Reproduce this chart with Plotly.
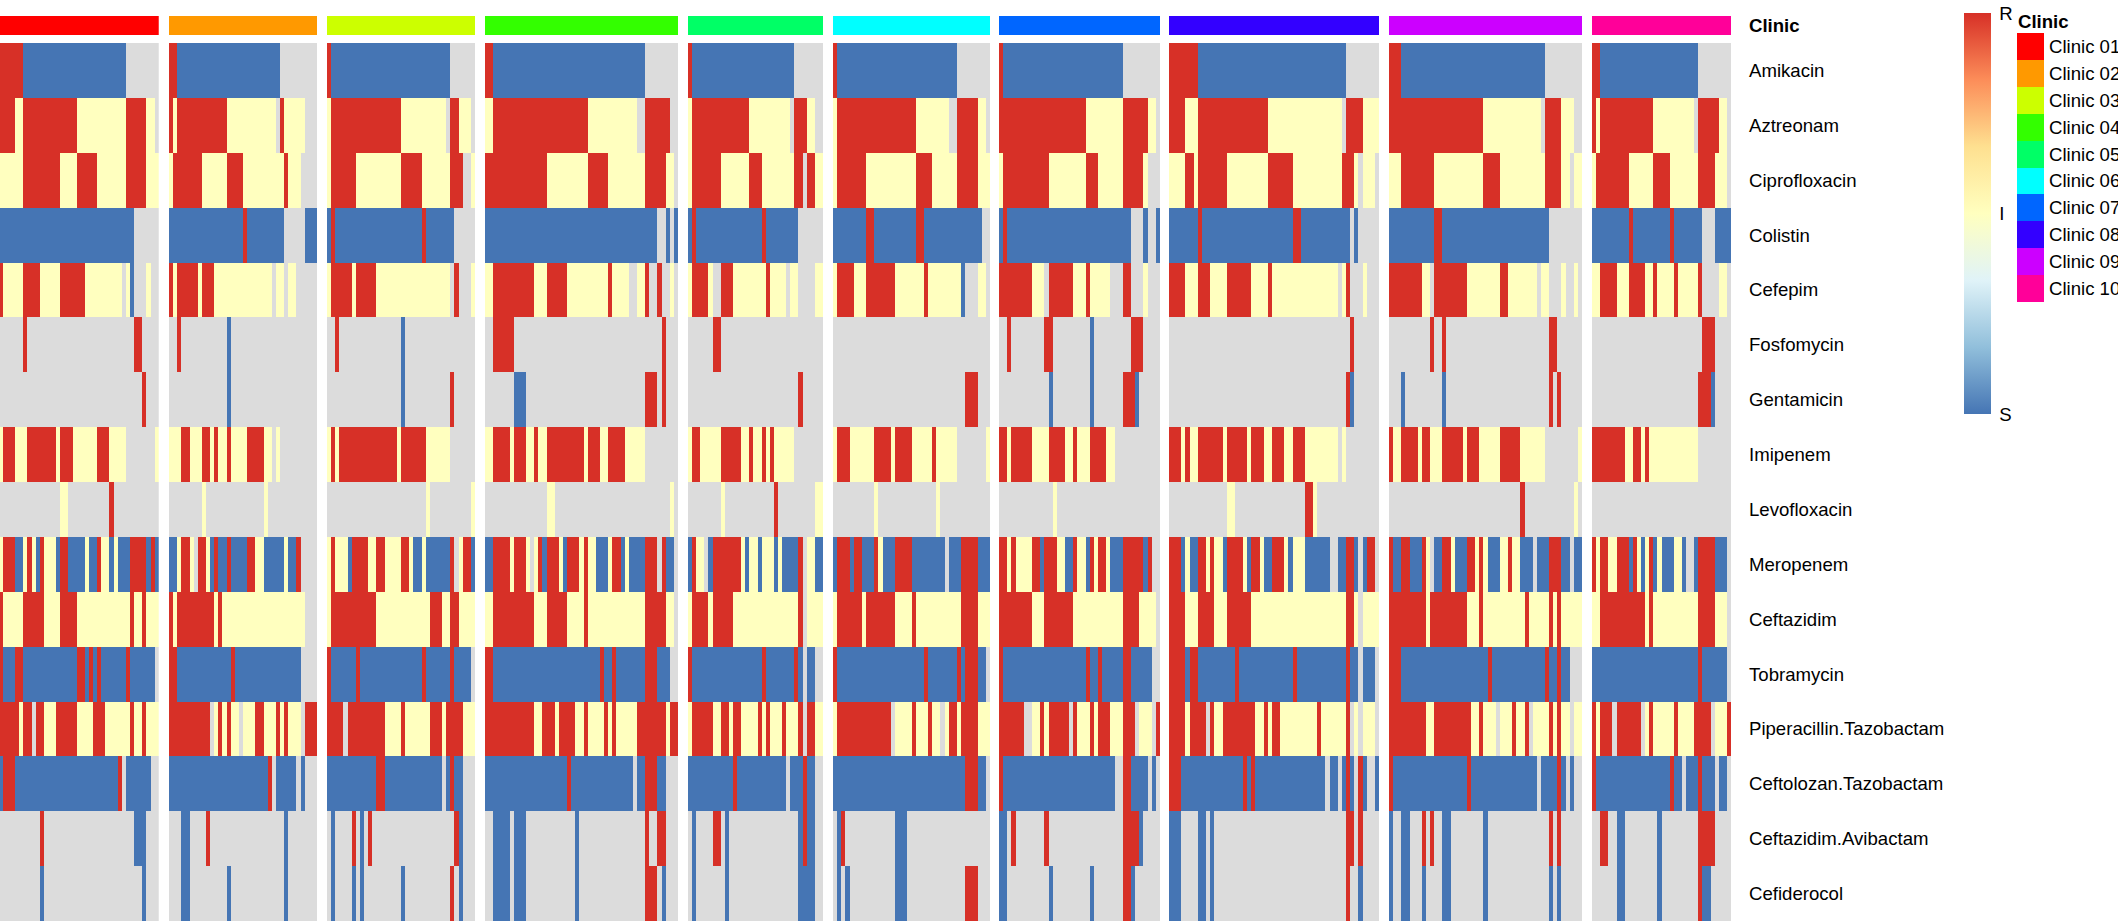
import plotly.graph_objects as go

drugs = ["Amikacin", "Aztreonam", "Ciprofloxacin", "Colistin", "Cefepim", "Fosfomycin",
         "Gentamicin", "Imipenem", "Levofloxacin", "Meropenem", "Ceftazidim", "Tobramycin",
         "Piperacillin.Tazobactam", "Ceftolozan.Tazobactam", "Ceftazidim.Avibactam", "Cefiderocol"]
clinics = ["Clinic 01", "Clinic 02", "Clinic 03", "Clinic 04", "Clinic 05",
           "Clinic 06", "Clinic 07", "Clinic 08", "Clinic 09", "Clinic 10"]
clinic_colors = ["#FF0000", "#FF9900", "#CCFF00", "#33FF00", "#00FF66",
                 "#00FFFF", "#0066FF", "#3300FF", "#CC00FF", "#FF0099"]
levels = {"S": 0, "I": 1, "R": 2, "N": None}

# Run-length coded results per isolate: one string per drug (S, I, R, N = not tested)
clinic_01 = ["6R 25S 8N", "4R 2I 13R 12I 5R 2I 1N", "6I 9R 4I 5R 7I 5R 3I", "33S 6N",
             "1R 5I 4R 5I 6R 9I 1N 1I 1S 3N 1I 2N", "6N 1R 26N 2R 4N", "35N 1R 3N",
             "1I 3R 3I 7R 1I 3R 6I 3R 4I 7N 1I", "15N 2I 10N 1R 11N",
             "1I 3R 2S 1I 1R 1I 1S 1R 3I 1S 2R 4S 1I 2S 1R 2I 1S 1I 3S 4R 1S 1R 1S",
             "1R 5I 5R 4I 4R 13I 1R 2I 1R 3I", "1R 3S 2R 13S 2R 1S 1R 1S 1R 6S 1R 6S 1N",
             "5R 1I 2R 1N 2R 3I 5R 4I 3R 6I 1R 2I 1R 3I", "1S 3R 25S 1R 1N 6S 2N",
             "10N 1R 22N 3S 3N", "10N 1S 24N 1S 3N"]
clinic_02 = ["2R 25S 9N", "1R 1I 12R 12I 1N 1R 5I 3N", "1I 7R 6I 4R 10I 1R 3I 4N", "18S 1R 9S 5N 3S",
             "1R 1I 5R 1I 3R 14I 1N 2I 1N 2I 5N", "2N 1R 11N 1S 21N", "14N 1S 21N",
             "3I 2R 3I 2R 1I 1R 2I 1R 4I 4R 2I 1N 1I 9N", "8N 1I 14N 1I 12N",
             "2S 1I 2R 1I 1N 2R 1I 1S 1R 2S 1R 4S 2R 2I 5S 1I 2S 1R 4N",
             "1R 1I 9R 1I 1R 20I 3N", "2R 13S 1R 16S 4N",
             "10R 1N 1I 1R 1I 1R 2I 1N 3I 2R 3I 1R 1I 1R 3I 1N 3R", "24S 1R 1N 5S 1N 1S 3N",
             "3N 2S 4N 1R 18N 1S 7N", "3N 2S 9N 1S 13N 1S 7N"]
clinic_03 = ["1R 29S 6N", "1I 17R 11I 1N 2R 3I 1N", "1I 6R 11I 5R 7I 3R 2N 1I", "1S 1R 21S 1R 7S 5N",
             "1I 5R 1I 5R 18I 1N 1R 3N 1I", "2N 1R 15N 1S 17N", "18N 1S 11N 1R 5N",
             "1I 1R 1I 14R 1I 6R 6I 6N", "24N 1I 10N 1I",
             "1I 1R 3I 1S 4R 2I 2R 4I 2R 1I 2S 1I 6S 1R 1N 1I 2R 1S",
             "1I 11R 13I 3R 2I 2R 4I", "1R 6S 1R 15S 1R 6S 1R 4S 1N",
             "4R 1N 9R 4I 1R 6I 3R 1I 4R 3I", "12S 2R 14S 1N 1S 1R 2S 3N",
             "1N 1S 4N 1R 1N 1S 1N 1R 20N 1R 1S 3N", "1N 1S 4N 1S 1N 1S 9N 1S 11N 1R 1N 1S 3N"]
clinic_04 = ["2R 37S 8N", "2I 23R 12I 2N 6R 2N", "15R 10I 5R 9I 5R 2I 1N", "42S 2N 1S 1N 1S",
             "2I 10R 3I 5R 10I 1R 4I 2N 2I 1R 2N 1R 2N 1I 1N", "2N 5R 36N 1R 3N", "7N 3S 29N 3R 1N 1R 3N",
             "2I 4R 1I 3R 2I 1R 2I 9R 1I 3R 2I 4R 5I 8N", "15N 2I 28N 1I 1N",
             "2S 4R 1I 3R 1I 1N 1I 1R 1S 3R 1I 1S 3R 1I 1R 2I 3S 1I 2R 1S 1I 4S 3R 1N 1R 2S 1N",
             "2I 10R 3I 5R 4I 1R 14I 5R 2I 1N", "2R 26S 1R 2S 1R 7S 3R 3S 2N",
             "12R 2I 3R 1I 4R 2I 1R 4I 1R 1I 1R 5I 7R 1I 2R", "20S 1R 15S 1N 2S 3R 2S 3N",
             "2N 4S 1N 3S 12N 1S 16N 1R 2N 2R 3N", "2N 4S 1N 3S 12N 1S 16N 3R 1N 1S 3N"]
clinic_05 = ["1R 25S 7N", "1I 14R 10I 1N 3R 2I 2N", "1I 7R 7I 3R 8I 2R 1N 2R 2I", "1S 1R 16S 1R 8S 6N",
             "1I 4R 1I 2N 3R 8I 1R 4I 1N 2I 4N 2I", "6N 2R 25N", "27N 1R 5N",
             "1I 2R 5I 5R 2I 1R 2I 1R 1I 1R 5I 7N", "8N 1I 12N 1R 9N 2I",
             "1S 1R 2I 1N 1S 7R 1I 1S 2I 1S 3I 1S 1I 4S 1R 1N 2I 2S",
             "1I 4R 1I 5R 16I 1R 1N 4I", "1R 17S 1R 7S 1R 1S 1N 2S 2N",
             "1I 5R 2I 2R 1I 2R 4I 1R 1I 1R 3I 1R 3I 1R 1N 2R 2I", "11S 1R 12S 1N 3S 1R 2S 2N",
             "1N 1S 4N 2R 1N 1S 17N 1S 1R 2S 2N", "1N 1S 7N 1S 17N 4S 2N"]
clinic_06 = ["1R 29S 8N", "1I 19R 8I 2N 5R 2I 1N", "1I 7R 12I 4R 6I 5R 3I", "8S 2R 10S 2R 14S 2N",
             "1I 4R 3I 7R 7I 1R 8I 1S 3N 2I 1N", "38N", "32N 3R 3N",
             "1I 3R 6I 4R 1I 4R 5I 1R 5I 7N 1I", "10N 1I 14N 1I 12N",
             "1S 3R 1S 2R 3S 1R 1I 3S 4R 8S 1N 3S 4R 3S",
             "1I 6R 1I 7R 4I 1R 11I 4R 3I", "1R 21S 1R 7S 1R 1S 3R 2S 1N",
             "1I 13R 1N 4I 1R 3I 1R 2I 1N 1I 2R 1I 4R 3I", "32S 3R 2S 1N",
             "1N 1S 1R 12N 3S 20N", "1N 1S 1N 1S 11N 3S 14N 3R 3N"]
clinic_07 = ["1R 29S 9N", "21R 9I 6R 2I 1N", "1I 11R 9I 3R 6I 5R 1I 3N", "1S 1R 30S 3N 1S 2N 1S",
             "8R 3I 1N 6R 3I 1R 5I 3N 2R 3N 1I 3N", "2N 1R 8N 2R 9N 1S 9N 3R 4N", "12N 1S 9N 1S 7N 3R 1S 5N",
             "2R 1I 5R 4I 4R 2I 1R 3I 4R 2I 11N", "13N 1I 25N",
             "2R 1I 1R 4I 2R 1S 3R 2I 2S 1R 2I 1S 1R 1I 2R 1I 3S 5R 1S 1R 2N",
             "8R 3I 7R 12I 4R 4I 1N", "1R 20S 1R 2S 1R 5S 2R 5S 2N",
             "6R 2N 2I 1R 1I 5R 1N 1R 3I 1R 1I 3R 3I 3R 1N 3I 1N 1R", "1R 27S 2N 2R 4S 1N 1S 1N",
             "2S 1N 1R 7N 1R 18N 4R 1S 4N", "2S 10N 1S 9N 1S 7N 2R 1S 6N"]
clinic_08 = ["7R 36S 8N", "4R 3I 17R 18I 1N 4R 4I", "4I 2R 1I 7R 10I 6R 12I 3R 1I 1N 3I 1N", "7S 1R 22S 2R 12S 1N 1S 5N",
             "4R 3I 3R 4I 6R 4I 1R 16I 1N 1I 1R 3N 1I 3N", "44N 1R 6N", "43N 1R 1S 6N",
             "3R 1I 1R 2I 6R 1I 5R 1I 3R 2I 3R 2I 3R 8I 1N 1I 8N", "14N 2I 17N 2R 1I 15N",
             "3R 1S 1I 2S 2R 1I 1R 2I 1S 4R 1I 1S 2R 1I 2S 3R 1I 1S 3I 6S 2N 2S 2R 1S 1N 1S 2R 1N",
             "4R 3I 4R 3I 6R 23I 2R 1I 1N 4I", "4R 1S 2R 9S 1R 13S 1R 12S 1R 2S 1N 3S 1N",
             "4R 1I 4R 1N 1R 2I 8R 2I 1R 1I 2R 9I 1R 6I 1R 1N 1I 1N 3I 1N",
             "3R 15S 1R 1S 1R 17S 1N 2S 1N 1S 1R 1S 1N 1R 1S 2N 1S",
             "3S 4N 2S 1N 1S 32N 2R 1N 1R 4N", "3S 4N 2S 1N 1S 32N 1R 2N 1S 4N"]
clinic_09 = ["3R 35S 9N", "23R 14I 1N 4R 3I 2N", "3I 8R 12I 4R 11I 4R 2I 1N 2I", "11S 2R 26S 8N",
             "8R 2I 1N 8R 8I 2R 7I 1N 2I 3N 1I 2N 1I 1N", "10N 1R 2N 1R 25N 2R 6N", "3N 1S 9N 1S 25N 1R 1N 1R 5N",
             "1R 2I 4R 1I 2R 3I 5R 1I 3R 5I 5R 6I 8N 1I", "32N 1R 12N 1I 1N",
             "1R 2S 2R 3S 1R 1I 1N 2S 2R 1I 3S 2R 1I 1R 1I 3S 2I 1R 2I 3S 1N 3S 3R 2S 1N 2S",
             "9R 1I 9R 3I 1R 10I 1R 5I 1R 1I 1R 5I", "3R 21S 1R 13S 1R 2S 1R 2S 3N",
             "9R 2I 9R 2I 1R 3I 1N 3I 1R 2I 1R 1N 4I 1R 1I 1R 2I 1N 2I", "1R 18S 1R 16S 1N 4S 1R 1S 1N 1S 2N",
             "1S 2N 2S 3N 1R 1N 1R 2N 2S 8N 1S 15N 1R 1N 1R 5N", "1S 2N 2S 3N 1S 4N 2S 8N 1S 15N 1S 1N 1S 5N"]
clinic_10 = ["2R 24S 8N", "1R 1I 13R 10I 1N 5R 2I 1N", "1I 8R 6I 4R 7I 4R 3I 1N", "9S 1R 9S 1R 7S 3N 4S",
             "2I 4R 3I 4R 2I 1R 4I 1R 5I 1R 4N 2I 1N", "27N 3R 4N", "26N 3R 1S 4N",
             "8R 2I 2R 1I 1R 12I 8N", "34N",
             "1R 1I 2R 2I 3R 1S 1R 1I 1S 1I 1R 1S 1I 3S 2I 1S 2N 1S 4R 3S 1N",
             "2I 11R 1I 1R 11I 4R 3I 1N", "26S 1R 6S 1N",
             "1R 1I 3R 1N 6R 1N 1I 1R 5I 1R 4I 4R 1N 3I 1R", "1R 18S 1R 2S 1N 3S 1R 3S 1N 2S 1N",
             "2N 2R 2N 2S 8N 1S 9N 4R 4N", "6N 2S 8N 1S 9N 1R 2S 5N"]
clinic_rows = [clinic_01, clinic_02, clinic_03, clinic_04, clinic_05,
               clinic_06, clinic_07, clinic_08, clinic_09, clinic_10]

W, H = 2118, 921
panel_px = [(0, 159), (169, 317), (327, 475), (485, 678), (688, 823),
            (833, 990), (999, 1160), (1169, 1379), (1389, 1582), (1592, 1731)]
first_cell_clip = 0.31


def fx(px):
    return px / W


def fy(px):
    return 1 - px / H


def expand(row):
    cells = []
    for run in row.split():
        cells += [levels[run[-1]]] * int(run[:-1])
    return cells


scale = [[0, "#4575B4"], [1 / 6, "#91BFDB"], [2 / 6, "#E0F3F8"], [3 / 6, "#FFFFBF"],
         [4 / 6, "#FEE090"], [5 / 6, "#FC8D59"], [1, "#D73027"]]
GREY = "#DCDCDC"
TEXT = dict(family="Liberation Sans", size=18.6, color="black")

fig = go.Figure()
layout = {}
n_rows = len(drugs)
ys = list(range(n_rows))
for i, rows in enumerate(clinic_rows):
    xa = f"x{i + 1}" if i else "x"
    z = [expand(r) for r in rows]
    n = len(z[0])
    for d, r in zip(drugs, z):
        if len(r) != n:
            raise ValueError(f"{clinics[i]} {d}: {len(r)} != {n}")
    xs = list(range(n))
    missing = [[1 if v is None else None for v in r] for r in z]
    fig.add_trace(go.Heatmap(z=missing, x=xs, y=ys, xaxis=xa, yaxis="y",
                             colorscale=[[0, GREY], [1, GREY]], showscale=False,
                             hoverinfo="skip"))
    fig.add_trace(go.Heatmap(z=z, x=xs, y=ys, xaxis=xa, yaxis="y", coloraxis="coloraxis",
                             customdata=[[clinics[i]] * n] * n_rows,
                             hovertemplate="%{customdata} %{y}<extra></extra>"))
    fig.add_trace(go.Heatmap(z=[[i] * n], x=xs, y=[0], xaxis=xa, yaxis="y2",
                             colorscale=[[0, clinic_colors[i]], [1, clinic_colors[i]]],
                             showscale=False, hoverinfo="skip"))
    left, right = panel_px[i]
    layout[f"xaxis{i + 1}" if i else "xaxis"] = dict(
        domain=[fx(left), fx(right)], visible=False, fixedrange=True,
        range=[-0.5 + (first_cell_clip if i == 0 else 0), n - 0.5])

fig.add_trace(go.Heatmap(z=[[k] for k in range(10)], x=[0], y=list(range(10)), xaxis="x11", yaxis="y3",
                         colorscale=[[k / 9, c] for k, c in enumerate(clinic_colors)],
                         showscale=False, hoverinfo="skip"))
layout["xaxis11"] = dict(domain=[fx(2017), fx(2044)], visible=False, range=[-0.5, 0.5])

layout["yaxis"] = dict(domain=[fy(921), fy(43)], range=[n_rows - 0.5, -0.5], anchor="x10", side="right",
                       tickmode="array", tickvals=ys, ticktext=drugs, ticks="", showgrid=False,
                       zeroline=False, showline=False, tickfont=TEXT, ticklabelstandoff=17)
layout["yaxis2"] = dict(domain=[fy(35), fy(16)], range=[-0.5, 0.5], anchor="x10", side="right",
                        tickmode="array", tickvals=[0], ticktext=["<b>Clinic</b>"], ticks="",
                        showgrid=False, zeroline=False, showline=False, tickfont=TEXT, ticklabelstandoff=17)
layout["yaxis3"] = dict(domain=[fy(302), fy(33)], range=[9.5, -0.5], anchor="x11", side="right",
                        tickmode="array", tickvals=list(range(10)), ticktext=clinics, ticks="",
                        showgrid=False, zeroline=False, showline=False, tickfont=TEXT, ticklabelstandoff=4)

fig.update_layout(
    width=W, height=H, margin=dict(l=0, r=0, t=0, b=0, autoexpand=False),
    paper_bgcolor="white", plot_bgcolor="white", font=TEXT, showlegend=False,
    coloraxis=dict(colorscale=scale, cmin=0, cmax=2,
                   colorbar=dict(x=fx(1964), xanchor="left", xpad=0, y=fy(13), yanchor="top", ypad=0,
                                 len=401, lenmode="pixels", thickness=27, thicknessmode="pixels",
                                 outlinewidth=0, borderwidth=0, tickmode="array", tickvals=[0, 1, 2],
                                 ticktext=["S", "I", "R"], ticks="outside", ticklen=5,
                                 tickcolor="rgba(0,0,0,0)", tickfont=TEXT)),
    annotations=[dict(text="<b>Clinic</b>", x=fx(2015.5), y=fy(21), xref="paper", yref="paper",
                      xanchor="left", yanchor="middle", showarrow=False, font=TEXT)],
    **layout)

fig.write_html("out.html", config={"displayModeBar": False},
               post_script="document.body.style.margin='0';document.body.style.overflow='hidden';")
